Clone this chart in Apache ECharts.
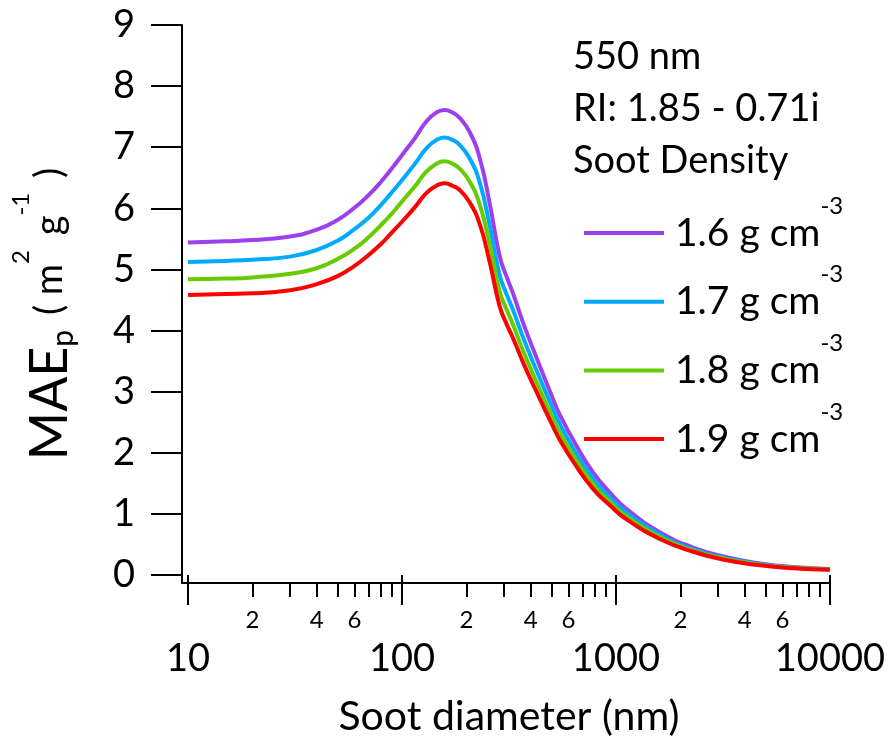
<!DOCTYPE html>
<html><head><meta charset="utf-8">
<script src="https://cdn.jsdelivr.net/npm/echarts@6/dist/echarts.min.js"></script>
<style>html,body{margin:0;padding:0;background:#fff}#c{width:888px;height:742px}</style>
</head><body><div id="c"></div>
<script>
const diameters = [10,15,20,30,40,50,60,70,80,90,100,115,130,145,158,172,186,207,231,257,286,307,331,368,425,500,547,650,782,937,1121,1604,2296,3289,4710,6734,10000];
const mae16 = [5.44,5.46,5.48,5.54,5.65,5.81,6.01,6.22,6.44,6.66,6.87,7.15,7.42,7.57,7.61,7.57,7.48,7.25,6.82,6.08,5.22,4.90,4.60,4.13,3.56,2.94,2.62,2.13,1.68,1.35,1.08,0.70,0.45,0.29,0.19,0.13,0.10];
const mae17 = [5.12,5.14,5.16,5.21,5.32,5.47,5.66,5.85,6.06,6.27,6.46,6.73,6.98,7.12,7.16,7.12,7.04,6.82,6.42,5.72,4.91,4.61,4.33,3.89,3.35,2.77,2.47,2.00,1.58,1.27,1.02,0.66,0.42,0.27,0.18,0.12,0.094];
const mae18 = [4.84,4.85,4.87,4.93,5.02,5.17,5.34,5.53,5.73,5.92,6.11,6.36,6.60,6.73,6.77,6.73,6.65,6.44,6.06,5.41,4.64,4.36,4.09,3.67,3.16,2.61,2.33,1.89,1.49,1.20,0.96,0.62,0.40,0.26,0.17,0.12,0.089];
const mae19 = [4.58,4.60,4.61,4.66,4.76,4.89,5.06,5.24,5.42,5.61,5.78,6.02,6.25,6.37,6.41,6.37,6.30,6.10,5.74,5.12,4.40,4.12,3.87,3.48,3.00,2.48,2.21,1.79,1.41,1.14,0.91,0.59,0.38,0.24,0.16,0.11,0.084];
const seriesNames = ['1.6 g cm','1.7 g cm','1.8 g cm','1.9 g cm'];
const seriesColors = ['#9b40ec','#00aaff','#66cc00','#ff0000'];
const xMinorTicks = [20,30,40,50,60,70,80,90,200,300,400,500,600,700,800,900,2000,3000,4000,5000,6000,7000,8000,9000];
const xMinorLabels = [20,40,60,200,400,600,2000,4000,6000];
const infoLines = ['550 nm','RI: 1.85 - 0.71i','Soot Density'];

const FONT = 'Lato';
const allSeries = [mae16, mae17, mae18, mae19];
const chart = echarts.init(document.getElementById('c'), null, {renderer: 'canvas'});
const black = '#000';
const option = {
  animation: false,
  backgroundColor: '#fff',
  textStyle: {fontFamily: FONT},
  title: {
    text: infoLines.join('\n'), left: 568, top: 26,
    textStyle: {fontFamily: FONT, fontSize: 38, fontWeight: 'normal', color: black, lineHeight: 52}
  },
  legend: {
    orient: 'vertical', left: 579, top: 189,
    itemWidth: 80, itemHeight: 4, itemGap: -9.3, icon: 'rect',
    data: seriesNames,
    formatter: n => '{a|' + n + '}{s|-3}',
    textStyle: {
      color: black, fontFamily: FONT, fontSize: 39,
      rich: {
        a: {fontFamily: FONT, fontSize: 39, lineHeight: 40, padding: [0, 0, 0, 6], color: black},
        s: {fontFamily: FONT, fontSize: 24, lineHeight: 40, padding: [0, 0, 54, 0], color: black}
      }
    }
  },
  grid: [
    {left: 188, right: 58, top: 25, bottom: 166},
    {left: 182, right: 58, top: 25, bottom: 159}
  ],
  xAxis: [
    {
      gridIndex: 0, type: 'log', logBase: 10, min: 10, max: 10000, position: 'bottom', offset: 7,
      axisLine: {show: false},
      axisTick: {show: true, length: 30, lineStyle: {color: black, width: 2}},
      minorTick: {show: false},
      splitLine: {show: false},
      axisLabel: {color: black, fontFamily: FONT, fontSize: 38, margin: 58, formatter: v => String(Math.round(v))},
      name: 'Soot diameter (nm)', nameLocation: 'middle', nameGap: 114,
      nameTextStyle: {color: black, fontFamily: FONT, fontSize: 41}
    },
    {
      gridIndex: 0, type: 'log', logBase: 10, min: 10, max: 10000, position: 'bottom', offset: 7,
      axisLine: {show: false},
      axisTick: {show: true, length: 15, lineStyle: {color: black, width: 2}, customValues: xMinorTicks},
      splitLine: {show: false},
      axisLabel: {color: black, fontFamily: FONT, fontSize: 24, margin: 26, customValues: xMinorLabels,
        formatter: v => String(Math.round(v / Math.pow(10, Math.floor(Math.log10(v) + 1e-9))))}
    },
    {
      gridIndex: 1, type: 'value', min: 0, max: 1, position: 'bottom',
      axisLine: {show: true, lineStyle: {color: black, width: 2}},
      axisTick: {show: false}, axisLabel: {show: false}, splitLine: {show: false}
    }
  ],
  yAxis: [
    {
      gridIndex: 0, type: 'value', min: 0, max: 9, interval: 1, position: 'left', offset: 6,
      axisLine: {show: false},
      axisTick: {show: true, length: 31, lineStyle: {color: black, width: 2}},
      splitLine: {show: false},
      axisLabel: {color: black, fontFamily: FONT, fontSize: 38, margin: 47}
    },
    {
      gridIndex: 1, type: 'value', min: 0, max: 1, position: 'left',
      axisLine: {show: true, lineStyle: {color: black, width: 2}},
      axisTick: {show: false}, axisLabel: {show: false}, splitLine: {show: false}
    }
  ],
  graphic: [{
    type: 'text', x: 50, y: 314, rotation: Math.PI / 2,
    style: {
      text: '{a|MAE}{p|p}{b| ( m}{s|2}{b| g}{s|-1}{b| )}',
      align: 'center', verticalAlign: 'middle', fill: black,
      fontFamily: FONT, fontSize: 48,
      rich: {
        a: {fontFamily: FONT, fontSize: 52, fill: black},
        b: {fontFamily: FONT, fontSize: 38, fill: black, padding: [0, 0, 0, 5]},
        p: {fontFamily: FONT, fontSize: 30, fill: black, padding: [26, 0, 0, 0]},
        s: {fontFamily: FONT, fontSize: 24, fill: black, padding: [0, 0, 58, 0]}
      }
    }
  }],
  series: allSeries.map((vals, i) => ({
    name: seriesNames[i], type: 'line', xAxisIndex: 0, yAxisIndex: 0,
    data: diameters.map((d, j) => [d, vals[j]]),
    showSymbol: false, symbol: 'none', smooth: 0.5,
    color: seriesColors[i],
    itemStyle: {color: seriesColors[i]},
    lineStyle: {color: seriesColors[i], width: 4}
  }))
};
chart.setOption(option);
</script></body></html>
